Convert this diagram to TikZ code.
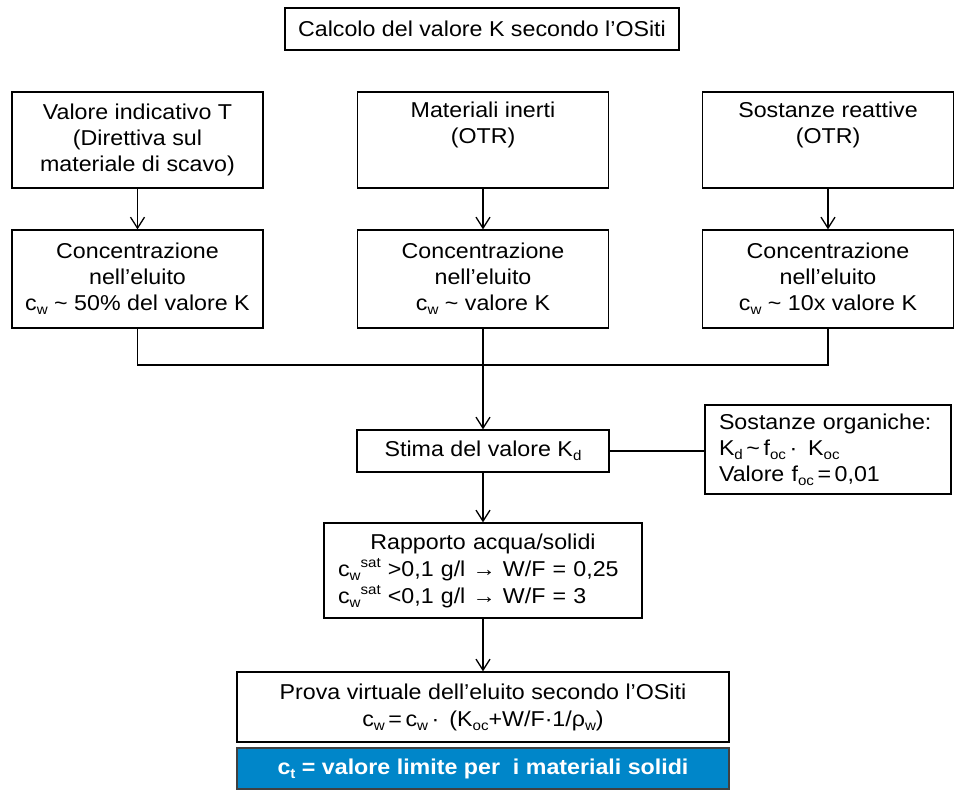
\documentclass[tikz,border=0pt]{standalone}
\usepackage{fontspec}
\setmainfont[FakeStretch=1.08]{Liberation Sans}
\usetikzlibrary{arrows.meta}
\definecolor{bluebox}{RGB}{0,134,201}
\newcommand{\mysub}[1]{\raisebox{-0.35ex}{\fontsize{14}{14}\selectfont #1}}
\newcommand{\mysup}[1]{\raisebox{0.75ex}{\fontsize{14}{14}\selectfont #1}}
\begin{document}
\begin{tikzpicture}[x=1pt,y=-1pt,
  box/.style={draw, line width=1.3pt, rectangle, inner sep=0pt, align=center,
    font=\fontsize{21.5}{26}\selectfont},
  arr/.style={-{Straight Barb[length=11pt,width=14pt]}, line width=1.3pt},
  ln/.style={line width=1.3pt}]
\useasboundingbox (0,0) rectangle (976,790);

\node[box, minimum width=394pt, minimum height=42pt] (title) at (482,29)
  {Calcolo del valore K secondo l’OSiti};

\node[box, minimum width=251pt, minimum height=96pt] (b1) at (137.5,140)
  {Valore indicativo T\\(Direttiva sul\\materiale di scavo)};
\node[box, minimum width=251pt, minimum height=96pt] (b2) at (483,140)
  {Materiali inerti\\(OTR)\\\strut};
\node[box, minimum width=251pt, minimum height=96pt] (b3) at (828,140)
  {Sostanze reattive\\(OTR)\\\strut};

\node[box, minimum width=251pt, minimum height=98pt] (c1) at (137.5,279)
  {Concentrazione\\nell’eluito\\c\mysub{w} \textasciitilde{} 50\% del valore K};
\node[box, minimum width=251pt, minimum height=98pt] (c2) at (483,279)
  {Concentrazione\\nell’eluito\\c\mysub{w} \textasciitilde{} valore K};
\node[box, minimum width=251pt, minimum height=98pt] (c3) at (828,279)
  {Concentrazione\\nell’eluito\\c\mysub{w} \textasciitilde{} 10x valore K};

\coordinate (jn) at (483,365);

\node[box, minimum width=252pt, minimum height=42pt] (kd) at (483,451)
  {Stima del valore K\mysub{d}};

\node[box, minimum width=246pt, minimum height=89pt, align=left, text width=218pt] (org) at (828,449.5)
  {Sostanze organiche:\\K\mysub{d}\,\textasciitilde\,f\mysub{oc}\,·\, K\mysub{oc}\\Valore f\mysub{oc}\,=\,0,01};

\node[box, minimum width=318pt, minimum height=95pt, align=left, text width=290pt,
  font=\fontsize{21.5}{27}\selectfont] (ratio) at (483,570.5)
  {\makebox[\linewidth]{Rapporto acqua/solidi}\\
   c\mysub{w}\mysup{sat} >0,1 g/l → W/F = 0,25\\
   c\mysub{w}\mysup{sat} <0,1 g/l → W/F = 3};

\node[box, minimum width=492pt, minimum height=70pt, font=\fontsize{21.5}{27}\selectfont] (prova) at (483,707)
  {Prova virtuale dell’eluito secondo l’OSiti\\
   c\mysub{w}\,=\,c\mysub{w}\,·\, (K\mysub{oc}+W/F·1/ρ\mysub{w})};

\node[box, draw=black!75, fill=bluebox, text=white, minimum width=492pt, minimum height=41pt,
  font=\fontsize{21.5}{26}\selectfont\bfseries] (lim) at (483,768.5)
  {c\mysub{t} = valore limite per\ \ i materiali solidi};

\draw[arr] (b1) -- (c1);
\draw[arr] (b2) -- (c2);
\draw[arr] (b3) -- (c3);
\draw[ln] (c1.south) |- (jn) -| (c3.south);
\draw[arr] (c2.south) -- (kd.north);
\draw[ln] (kd.east) -- (kd.east -| org.west);
\draw[arr] (kd.south) -- (ratio.north);
\draw[arr] (ratio.south) -- (prova.north);
\end{tikzpicture}
\end{document}
